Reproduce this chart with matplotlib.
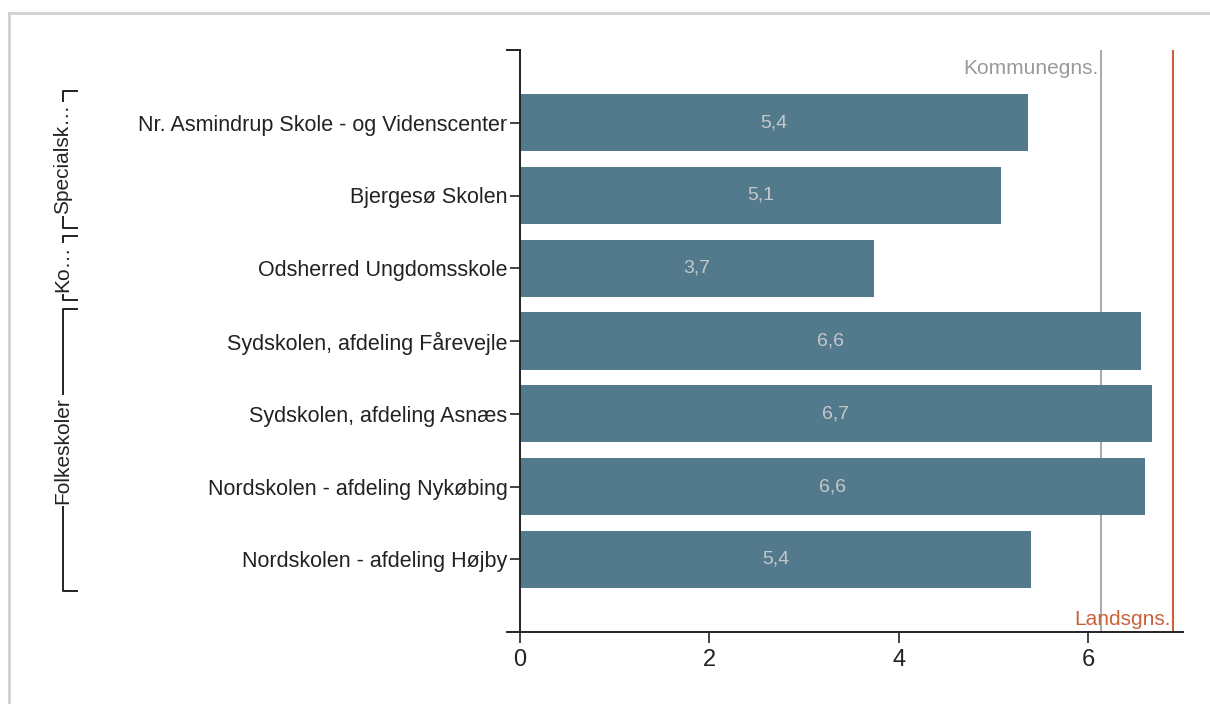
import matplotlib
matplotlib.use("Agg")
import matplotlib.pyplot as plt
from matplotlib.transforms import blended_transform_factory

# ── Data ──────────────────────────────────────────────────────────────────────
schools = [
    "Nr. Asmindrup Skole - og Videnscenter",
    "Bjergesø Skolen",
    "Odsherred Ungdomsskole",
    "Sydskolen, afdeling Fårevejle",
    "Sydskolen, afdeling Asnæs",
    "Nordskolen - afdeling Nykøbing",
    "Nordskolen - afdeling Højby",
]
values = [5.36, 5.08, 3.74, 6.56, 6.67, 6.60, 5.40]
groups = ["Specialsk…", "Ko…", "Folkeskoler"]
group_sizes = [2, 1, 4]
kommune_avg = 6.13
lands_avg = 6.89
x_ticks = [0, 2, 4, 6]

# ── Style ─────────────────────────────────────────────────────────────────────
BAR     = "#537a8c"
KOMMUNE = "#9a9a9a"
LANDS   = "#c9623a"
DARK    = "#222222"

plt.rcParams["font.family"] = ["Liberation Sans", "DejaVu Sans"]

W, H = 1210, 704
fig = plt.figure(figsize=(W / 100, H / 100), dpi=100)
ax = fig.add_axes([520 / W, 1 - 632 / H, (1183 - 520) / W, (632 - 50) / H])

ypos = list(range(len(schools)))
ax.barh(ypos, values, height=0.79, color=BAR, zorder=2)
ax.set_ylim(len(schools), -1)
ax.set_xlim(0, 7.0)

for y, v in zip(ypos, values):
    ax.text(v / 2, y, f"{v:.1f}".replace(".", ","), ha="center", va="center",
            fontsize=14, color="#c4c8cc", zorder=3)

# reference lines
ax.axvline(kommune_avg, color=KOMMUNE, lw=1.2, zorder=1)
ax.axvline(lands_avg, color=LANDS, lw=1.5, zorder=1)
ax.text(kommune_avg - 0.02, -0.74, "Kommunegns.", ha="right", va="center",
        fontsize=15, color=KOMMUNE)
ax.text(lands_avg - 0.02, 6.83, "Landsgns.", ha="right", va="center",
        fontsize=15, color=LANDS)

# axes styling
for s in ["top", "right"]:
    ax.spines[s].set_visible(False)
for s in ["left", "bottom"]:
    ax.spines[s].set_color(DARK)
    ax.spines[s].set_linewidth(1.4)

ax.set_yticks(ypos)
ax.set_yticklabels(schools, fontsize=15.5, color=DARK)
ax.tick_params(axis="y", length=7, width=1.2, color=DARK, pad=2)
ax.set_xticks(x_ticks)
ax.set_xticklabels([str(t) for t in x_ticks], fontsize=17, color=DARK)
ax.tick_params(axis="x", length=8, width=1.2, color=DARK, pad=4)

# outer ticks of y domain
o = -13 / (1183 - 520)
ax.plot([o, 0], [1, 1], transform=ax.transAxes, color=DARK, lw=1.4, clip_on=False)
ax.plot([o, 0], [0, 0], transform=ax.transAxes, color=DARK, lw=1.4, clip_on=False)

# group brackets
tr = blended_transform_factory(fig.transFigure, ax.transData)
bx, hx = 63 / W, 77 / W
start = 0
for name, n in zip(groups, group_sizes):
    top = start - 0.5 + 0.06
    bot = start + n - 0.5 - 0.06
    ax.plot([hx, bx, bx, hx], [top, top, bot, bot], transform=tr,
            color=DARK, lw=1.4, clip_on=False)
    ax.text(bx, (top + bot) / 2, name, transform=tr, rotation=90,
            ha="center", va="center", fontsize=15, color=DARK,
            bbox=dict(fc="white", ec="none", pad=1.5), clip_on=False)
    start += n

# outer frame of the panel
fig.add_artist(plt.Line2D([9 / W, 9 / W], [0, 1 - 13 / H], color="#d0d0d0", lw=2))
fig.add_artist(plt.Line2D([9 / W, 1], [1 - 13 / H, 1 - 13 / H], color="#d0d0d0", lw=2))

fig.savefig("out.png", dpi=100, facecolor="white")
